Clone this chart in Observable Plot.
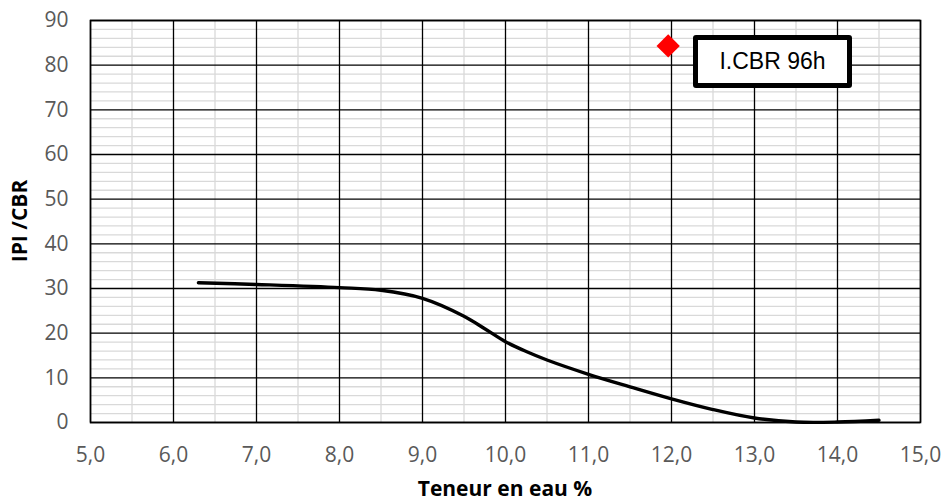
<!DOCTYPE html>
<html><head><meta charset="utf-8">
<script src="https://cdn.jsdelivr.net/npm/d3@7"></script>
<script src="https://cdn.jsdelivr.net/npm/@observablehq/plot@0.6"></script>
<style>
body{margin:0;background:#fff;}
#wrap{position:relative;width:944px;height:501px;}
#legend{position:absolute;left:693px;top:35px;width:159px;height:53px;border:5px solid #000;border-radius:3px;background:#fff;box-sizing:border-box;font-family:"Liberation Sans",Arial,sans-serif;font-size:23px;color:#000;display:flex;align-items:center;justify-content:center;}
</style></head><body>
<div id="wrap"><div id="legend">I.CBR 96h</div></div>
<script>
const teneur = [6.3, 7.0, 8.0, 8.5, 9.0, 9.5, 9.75, 10.0, 10.25, 10.5, 11.0, 11.5, 12.0, 12.5, 13.0, 13.5, 14.0, 14.5];
const ipi    = [31.3, 30.9, 30.2, 29.6, 27.8, 23.8, 21.0, 18.1, 15.9, 14.0, 10.8, 8.0, 5.3, 2.9, 1.0, 0.1, 0.1, 0.5];
const cbrX = [11.96];
const cbrY = [84.3];
const xTicks = [5,6,7,8,9,10,11,12,13,14,15];
const xMinor = [5.5,6.5,7.5,8.5,9.5,10.5,11.5,12.5,13.5,14.5];
const yTicks = [0,10,20,30,40,50,60,70,80,90];
const yMinor = d3.range(0, 91, 2).filter(v => v % 10 !== 0);

const line = teneur.map((x,i)=>({x, y: ipi[i]}));
const pts = cbrX.map((x,i)=>({x, y: cbrY[i]}));
const fmt = d => d3.format(".1f")(d).replace(".", ",");

const chart = Plot.plot({
  width: 944, height: 501,
  marginLeft: 90, marginRight: 24, marginTop: 20, marginBottom: 79,
  style: {fontFamily: "'Open Sans', sans-serif", fontSize: "21px", color: "#595959", background: "#fff"},
  x: {domain: [5, 15], label: null},
  y: {domain: [0, 90], label: null},
  marks: [
    Plot.ruleY(yMinor, {stroke: "#d9d9d9", strokeWidth: 1.3}),
    Plot.ruleX(xMinor, {stroke: "#d9d9d9", strokeWidth: 1.3}),
    Plot.ruleY(yTicks, {stroke: "#000", strokeWidth: 1.3}),
    Plot.ruleX(xTicks, {stroke: "#000", strokeWidth: 1.3}),
    Plot.frame({stroke: "#000", strokeWidth: 1.6}),
    Plot.axisX({ticks: xTicks, tickFormat: fmt, tickSize: 0, tickPadding: 25, fontSize: 21, fill: "#595959", label: null}),
    Plot.axisY({ticks: yTicks, tickSize: 0, tickPadding: 22, fontSize: 21, fill: "#595959", label: null}),
    Plot.line(line, {x: "x", y: "y", curve: "catmull-rom", stroke: "#000", strokeWidth: 3.4}),
    Plot.dot(pts, {x: "x", y: "y", symbol: "diamond2", r: 10.5, fill: "#ff0000", stroke: "none"})
  ]
});
const wrap = document.getElementById("wrap");
wrap.insertBefore(chart, wrap.firstChild);

const svg = d3.select(chart);
svg.append("text").attr("x", 505).attr("y", 496).attr("text-anchor", "middle")
  .attr("font-family", "'Open Sans', sans-serif").attr("font-weight", "bold").attr("font-size", 21).attr("fill", "#000")
  .text("Teneur en eau %");
svg.append("text").attr("transform", "translate(27,221) rotate(-90)").attr("text-anchor", "middle")
  .attr("font-family", "'Open Sans', sans-serif").attr("font-weight", "bold").attr("font-size", 21).attr("fill", "#000")
  .text("IPI /CBR");
</script>
</body></html>
